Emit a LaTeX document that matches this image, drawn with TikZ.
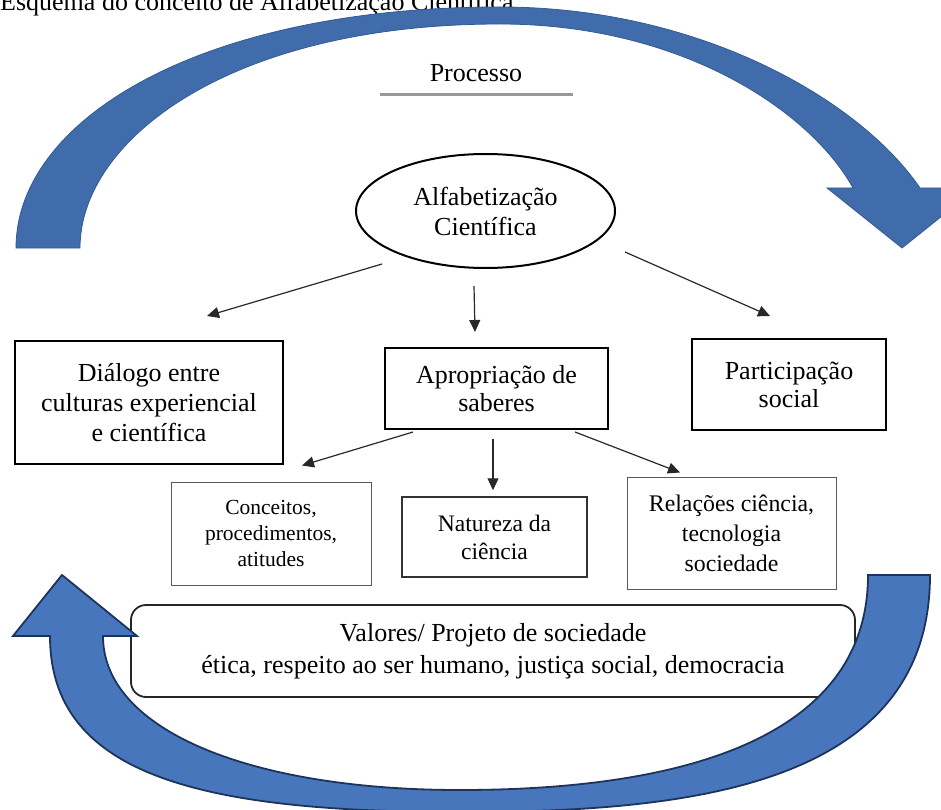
\documentclass[tikz,border=0pt]{standalone}
\usepackage{fontspec}
\setmainfont{Liberation Serif}
\usetikzlibrary{shapes.geometric,arrows.meta}
\definecolor{topblue}{RGB}{64,108,172}
\definecolor{topedge}{RGB}{52,90,148}
\definecolor{botblue}{RGB}{72,118,188}
\definecolor{botedge}{RGB}{28,52,92}
\definecolor{linegray}{RGB}{40,40,40}
\begin{document}
\begin{tikzpicture}[x=1pt,y=-1pt,
  box/.style={draw=black, line width=2pt, inner sep=0pt, align=center},
  midbox/.style={draw=black!80, line width=1.5pt, inner sep=0pt, align=center},
  thinbox/.style={draw=black!65, line width=1pt, inner sep=0pt, align=center},
  conn/.style={draw=linegray, line width=1.2pt, -{Triangle[length=12pt,width=11pt]}},
  bigarrowtop/.style={fill=topblue, draw=topedge, line width=0.8pt},
  bigarrowbot/.style={fill=botblue, draw=botedge, line width=1.8pt},
]
\useasboundingbox (0,0) rectangle (941,810);

% title (cut at the top edge)
\node[anchor=base west, inner sep=0pt, font=\fontsize{26}{30}\selectfont] (title) at (0,11)
  {Esquema do conceito de Alfabetização Científica};

% upper curved arrow
\path[bigarrowtop] (16,248) .. controls (16,120) and (200,7) .. (500,7)
  .. controls (700,7) and (860,100) .. (920,188)
  -- (977,188) -- (902,248) -- (827,188) -- (853,188)
  .. controls (810,110) and (680,24) .. (500,24)
  .. controls (230,24) and (80,140) .. (80,248) -- cycle;

% Processo
\node[anchor=base, inner sep=0pt, font=\fontsize{26}{30}\selectfont] (proc) at (476,82) {Processo};
\draw[black!40, line width=3pt] ([shift={(-96,13)}]proc.base) -- ([shift={(97,13)}]proc.base);

% central ellipse
\node[ellipse, draw=black, line width=2pt, minimum width=259pt, minimum height=114pt,
  inner sep=0pt, align=center, font=\fontsize{26}{30}\selectfont] (alf) at (485.5,211)
  {Alfabetização\\Científica};

% first level boxes
\node[box, minimum width=268pt, minimum height=123pt, font=\fontsize{26}{30}\selectfont]
  (dial) at (149,402.5) {Diálogo entre\\culturas experiencial\\e científica};
\node[box, minimum width=223pt, minimum height=81pt, font=\fontsize{26}{28}\selectfont]
  (apro) at (496.5,388.5) {Apropriação de\\saberes};
\node[box, minimum width=194pt, minimum height=91pt, font=\fontsize{26}{28}\selectfont]
  (part) at (789,384.5) {Participação\\social};

% second level boxes
\node[thinbox, minimum width=200pt, minimum height=103pt, font=\fontsize{21.5}{26}\selectfont]
  (conc) at (271,533.5) {Conceitos,\\procedimentos,\\atitudes};
\node[midbox, minimum width=185pt, minimum height=80pt, font=\fontsize{23.6}{28}\selectfont]
  (natu) at (494.5,537) {Natureza da\\ciência};
\node[thinbox, minimum width=209pt, minimum height=112pt, font=\fontsize{23.8}{30}\selectfont]
  (rela) at (731.5,533) {Relações ciência,\\tecnologia\\sociedade};

% connectors
\draw[conn] ([shift={(-103.5,-5)}]alf.south) -- ([shift={(58,-24)}]dial.north);
\draw[conn] ([shift={(-11.5,17)}]alf.south) -- ([shift={(-21.5,-15)}]apro.north);
\draw[conn] ([shift={(139.5,-17)}]alf.south) -- ([shift={(-19,-22)}]part.north);
\draw[conn] ([shift={(-83.5,2)}]apro.south) -- ([shift={(31,-16)}]conc.north);
\draw[conn] ([shift={(-3.5,9)}]apro.south) -- ([shift={(-1.5,-6)}]natu.north);
\draw[conn] ([shift={(78.5,2)}]apro.south) -- ([shift={(-51.5,-4)}]rela.north);

% values box
\node[draw=black!85, line width=1.8pt, rounded corners=15pt, fill=white,
  minimum width=724pt, minimum height=92pt, inner sep=0pt, align=center,
  font=\fontsize{26}{32}\selectfont] (valo) at (493,651)
  {Valores/ Projeto de sociedade\\ética, respeito ao ser humano, justiça social, democracia};

% lower curved arrow
\path[bigarrowbot] (930,575) .. controls (930,790) and (680,812) .. (460,812)
  .. controls (200,812) and (50,775) .. (50,636)
  -- (13,636) -- (62,575) -- (137,636) -- (103,636)
  .. controls (103,730) and (250,790) .. (460,790)
  .. controls (700,790) and (868,730) .. (868,575) -- cycle;
\end{tikzpicture}
\end{document}
